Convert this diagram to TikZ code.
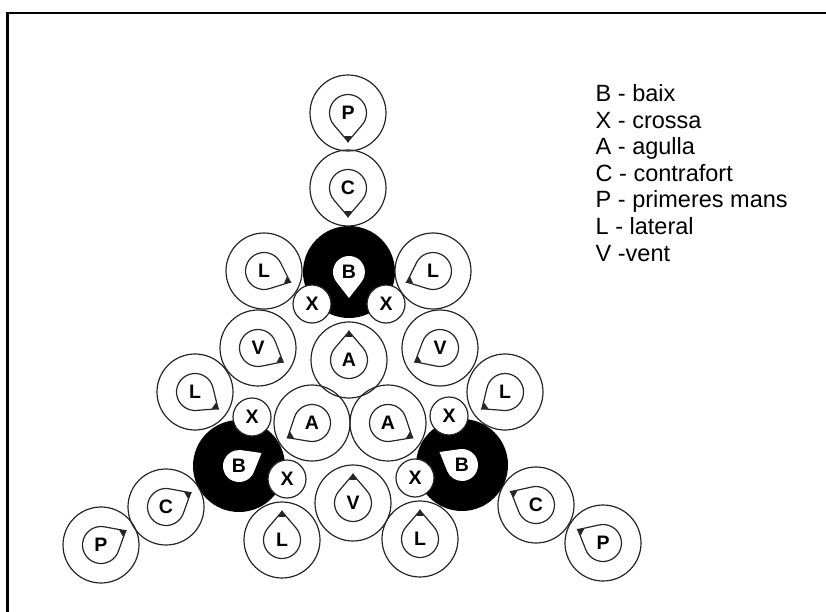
\documentclass[tikz,border=0pt]{standalone}
\usepackage{fontspec}
\setmainfont{Liberation Sans}
\usetikzlibrary{calc}
\tikzset{
 outer/.style={circle, draw=black!85, line width=1.2pt, minimum size=76pt, inner sep=0pt},
 xcirc/.style={circle, draw=black!85, fill=white, line width=1.2pt, minimum size=38pt, inner sep=0pt, font=\fontsize{19.5}{19.5}\selectfont\bfseries},
 blackdisc/.style={circle, fill=black, minimum size=92pt, inner sep=0pt},
 tear/.style={draw=black!85, line width=1.2pt, line join=round},
 lett/.style={inner sep=0pt, font=\fontsize{19.5}{19.5}\selectfont\bfseries},
 legend/.style={anchor=base west, inner sep=0pt, font=\fontsize{23.5}{23.5}\selectfont},
 frameline/.style={line width=2.5pt},
}
\newcommand\persona[4]{%
 \node[outer] (#1) at (#2) {};
 \draw[tear] ($(#1.center)+(#3:28.5)$) -- ($(#1.center)+(#3+48:18.5)$) arc[start angle=#3+48, end angle=#3+312, radius=18.5] -- cycle;
 \fill[black!85] ($(#1.center)+(#3:30)$) -- ($(#1.center)+(#3+9:23.5)$) -- ($(#1.center)+(#3-9:23.5)$) -- cycle;
 \node[lett] (#1-t) at (#1.center) {#4};
}
\newcommand\baixnode[3]{%
 \node[blackdisc] (#1) at (#2) {};
 \fill[white] ($(#1.center)+(#3:26)$) -- ($(#1.center)+(#3+52:16)$) arc[start angle=#3+52, end angle=#3+308, radius=16] -- cycle;
 \node[lett] (#1-t) at (#1.center) {B};
}
\begin{document}
\begin{tikzpicture}[x=1pt,y=1pt,yscale=-1]
\useasboundingbox (0,0) rectangle (826,612);
% frame
\coordinate (fa) at (826,13);
\coordinate (fb) at (7.7,13);
\coordinate (fc) at (7.7,612);
\draw[frameline] (fa) -- (fb) -- (fc);
% baixos
\baixnode{Btop}{349,272}{90}
\baixnode{Bbl}{239,466}{330}
\baixnode{Bbr}{462,465}{210}
% persons
\persona{Ptop}{348,113}{90}{P}
\persona{Ctop}{348,188}{90}{C}
\persona{Ltl}{264,271}{23}{L}
\persona{Ltr}{433,271}{157}{L}
\persona{Vl}{258,348}{29}{V}
\persona{Vr}{440,348}{151}{V}
\persona{Atop}{349,360}{270}{A}
\persona{Lml}{195,392}{36}{L}
\persona{Lmr}{505,392}{144}{L}
\persona{Al}{312,423}{149}{A}
\persona{Ar}{388,423}{31}{A}
\persona{Vb}{353,503}{270}{V}
\persona{Lbl}{282,540}{270}{L}
\persona{Lbr}{420,539}{270}{L}
\persona{Cbl}{166,507}{330}{C}
\persona{Pbl}{101,545}{330}{P}
\persona{Cbr}{536,505}{208}{C}
\persona{Pbr}{603,543}{208}{P}
% crosses
\node[xcirc] (Xtl) at (312,304) {X};
\node[xcirc] (Xtr) at (386,304) {X};
\node[xcirc] (Xml) at (252,417) {X};
\node[xcirc] (Xmr) at (449,416) {X};
\node[xcirc] (Xbl) at (287,479) {X};
\node[xcirc] (Xbr) at (415,478) {X};
% legend
\node[legend] (g1) at (595.5,101.5) {B - baix};
\node[legend] (g2) at (595.5,128.1) {X - crossa};
\node[legend] (g3) at (595.5,154.7) {A - agulla};
\node[legend] (g4) at (595.5,181.3) {C - contrafort};
\node[legend] (g5) at (595.5,207.9) {P - primeres mans};
\node[legend] (g6) at (595.5,234.5) {L - lateral};
\node[legend] (g7) at (595.5,261.1) {V -vent};
\end{tikzpicture}
\end{document}
